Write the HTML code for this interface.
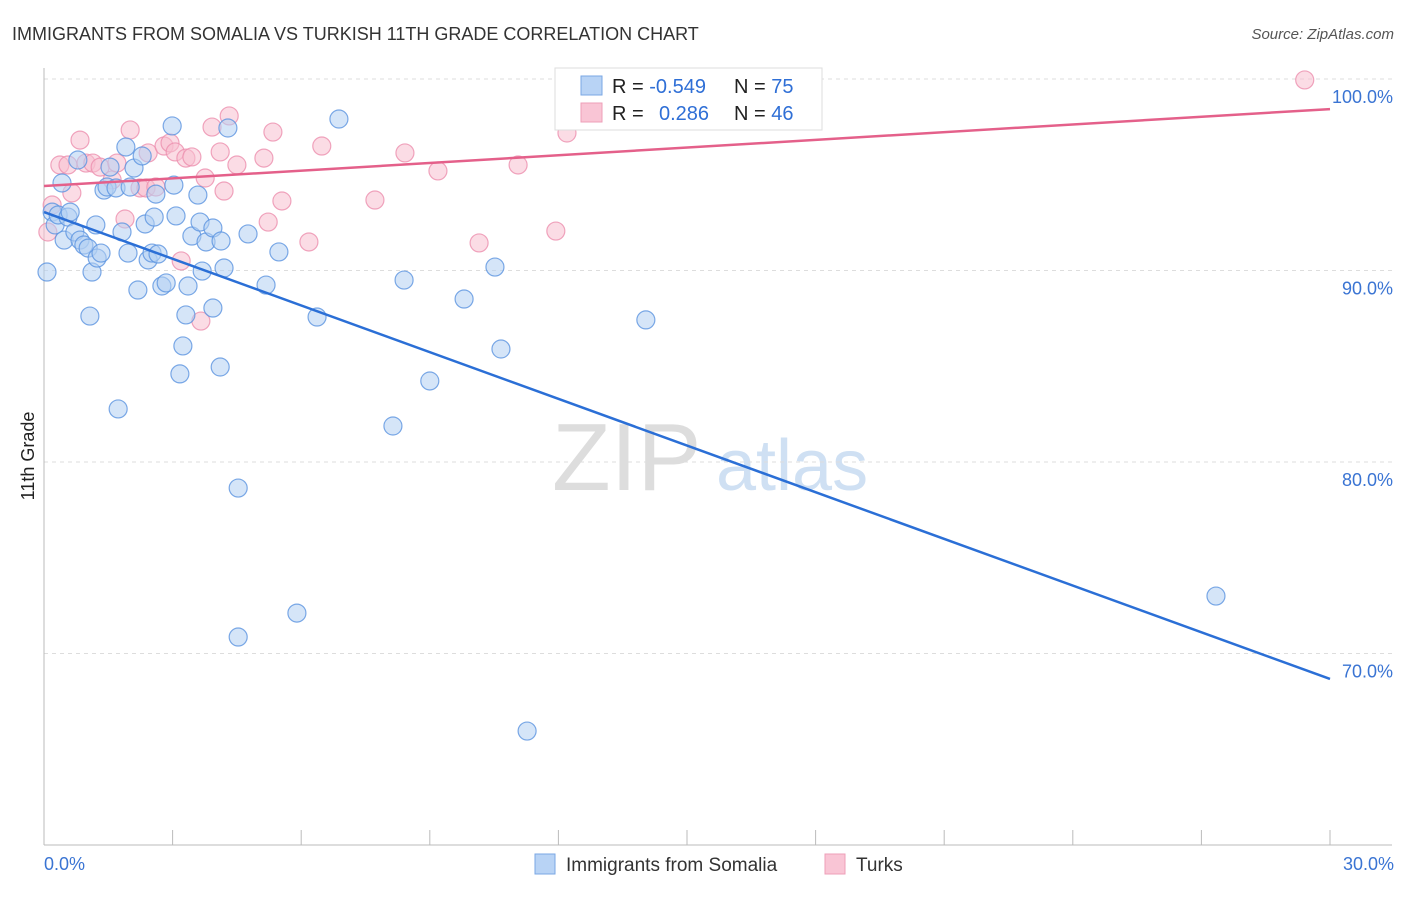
<!DOCTYPE html>
<html><head><meta charset="utf-8"><style>
body{margin:0;background:#fff;font-family:"Liberation Sans",sans-serif;}
svg text{font-family:"Liberation Sans",sans-serif;}
</style></head><body>
<svg width="1406" height="892" viewBox="0 0 1406 892">
<text x="12" y="40" font-size="18" fill="#333">IMMIGRANTS FROM SOMALIA VS TURKISH 11TH GRADE CORRELATION CHART</text>
<text x="1394" y="39" font-size="15" fill="#555" font-style="italic" text-anchor="end">Source: ZipAtlas.com</text>
<g>
<text x="552" y="490" font-size="96" fill="#ddd" font-family="Liberation Serif,serif">ZIP</text>
<text x="716" y="490" font-size="72" fill="#cfe0f3">atlas</text>
</g>
<g id="grid"></g>
<g id="axes"></g>
<g id="marks"></g>
<text transform="translate(34,456) rotate(-90)" font-size="18" fill="#222" text-anchor="middle">11th Grade</text>
<g>
<rect x="555" y="68" width="267" height="62" fill="#fff" stroke="#ddd"/>
<rect x="581" y="76" width="21" height="19" fill="#b8d3f5" stroke="#7aa7e4"/>
<rect x="581" y="103" width="21" height="19" fill="#f9c5d5" stroke="#ee9fb8"/>
<text x="612" y="93" font-size="20" fill="#222">R = <tspan fill="#2f6fd6">-0.549</tspan></text>
<text x="734" y="93" font-size="20" fill="#222">N = <tspan fill="#2f6fd6">75</tspan></text>
<text x="612" y="120" font-size="20" fill="#222">R = <tspan x="659" fill="#2f6fd6">0.286</tspan></text>
<text x="734" y="120" font-size="20" fill="#222">N = <tspan fill="#2f6fd6">46</tspan></text>
</g>
<g>
<rect x="535" y="854" width="20" height="20" fill="#b8d3f5" stroke="#7aa7e4"/>
<text x="566" y="871" font-size="19" fill="#333">Immigrants from Somalia</text>
<rect x="825" y="854" width="20" height="20" fill="#f9c5d5" stroke="#ee9fb8"/>
<text x="856" y="871" font-size="19" fill="#333">Turks</text>
</g>
</svg>
<script>
const yTicks=[100,90,80,70];
const yTickLabels=["100.0%","90.0%","80.0%","70.0%"];
const xTickLabels=["0.0%","30.0%"];
const somaliaX=[0.07,0.19,0.26,0.33,0.42,0.47,0.56,0.61,0.72,0.79,0.84,0.93,1.03,1.07,1.12,1.21,1.24,1.33,1.40,1.47,1.54,1.68,1.73,1.82,1.91,1.96,2.01,2.10,2.19,2.29,2.36,2.43,2.52,2.57,2.61,2.66,2.75,2.85,2.99,3.03,3.08,3.17,3.24,3.31,3.36,3.45,3.59,3.64,3.69,3.78,3.94,3.94,4.11,4.13,4.20,4.29,4.53,4.53,4.76,5.18,5.48,5.90,6.37,6.88,8.14,8.40,9.00,9.80,10.52,10.66,11.27,14.04,27.34];
const somaliaY=[89.92,93.05,92.38,92.90,94.57,91.59,92.79,93.05,92.01,95.77,91.59,91.33,91.17,87.62,89.92,92.38,90.65,90.91,94.20,94.36,95.40,94.31,82.77,92.01,96.45,90.91,94.36,95.35,88.98,95.98,92.43,90.55,90.91,92.79,93.99,90.86,89.19,89.35,97.55,94.46,92.85,84.60,86.06,87.68,89.19,91.80,93.94,92.53,89.97,91.49,92.22,88.04,84.96,91.54,90.13,97.44,78.64,70.86,91.91,89.24,90.97,72.11,87.57,97.91,81.88,89.50,84.23,88.51,90.18,85.90,65.95,87.42,73.00];
const turksX=[0.09,0.19,0.37,0.56,0.65,0.84,0.98,1.14,1.31,1.59,1.70,1.89,2.01,2.24,2.38,2.43,2.61,2.80,2.94,3.06,3.20,3.31,3.45,3.66,3.76,3.92,4.11,4.20,4.32,4.50,5.13,5.23,5.34,5.55,6.18,6.48,7.72,8.42,9.19,10.15,11.06,11.94,12.20,12.32,29.41];
const turksY=[92.01,93.42,95.51,95.51,94.05,96.81,95.61,95.61,95.40,94.73,95.61,92.69,97.34,94.31,94.31,96.14,94.36,96.50,96.66,96.19,90.50,95.87,95.93,87.36,94.83,97.49,96.19,94.15,98.07,95.51,95.87,92.53,97.23,93.63,91.49,96.50,93.68,96.14,95.20,91.44,95.51,92.06,97.18,100.0,99.95];
const somaliaTrend=[93.05,68.67];
const turksTrend=[94.41,98.43];
const NS="http://www.w3.org/2000/svg";
const X=v=>44+v/30*1286, Y=v=>79+(100-v)*19.15;
function mk(p,t,a){const e=document.createElementNS(NS,t);for(const k in a)e.setAttribute(k,a[k]);p.appendChild(e);return e;}
const grid=document.getElementById('grid'),axes=document.getElementById('axes'),marks=document.getElementById('marks');
yTicks.forEach((t,i)=>{
 const l=mk(grid,'line',{x1:44,x2:1392,y1:Y(t),y2:Y(t),stroke:'#ddd','stroke-dasharray':'4,4'});
 
 
 const tx=mk(grid,'text',{x:1393,y:Y(t)+24,'text-anchor':'end','font-size':18,fill:'#3a74d3'});
 tx.textContent=yTickLabels[i];
 
 
});
const la=mk(axes,'line',{x1:44,x2:44,y1:68,y2:845,stroke:'#bbb'});


const ba=mk(axes,'line',{x1:44,x2:1392,y1:845,y2:845,stroke:'#bbb'});


for(let i=0;i<=10;i++){
 const t=mk(axes,'line',{x1:X(i*3),x2:X(i*3),y1:830,y2:845,stroke:'#bbb'});
 
 
}
[[0,'start',44],[30,'end',1394]].forEach((d,i)=>{
 const tx=mk(axes,'text',{x:d[2],y:870,'text-anchor':d[1],'font-size':18,fill:'#3a74d3'});
 tx.textContent=xTickLabels[i];
 
 
});
function pts(xs,ys,fill,stroke,name){
 xs.forEach((x,i)=>{
  const c=mk(marks,'circle',{cx:X(x),cy:Y(ys[i]),r:9,fill:fill,'fill-opacity':0.55,stroke:stroke,'stroke-width':1.2,'stroke-opacity':0.8});
  
  
 });
}
pts(turksX,turksY,'#f8bfd0','#ec8fae','turks-point');
pts(somaliaX,somaliaY,'#b3cff3','#5b93e0','somalia-point');
const t1=mk(marks,'line',{x1:X(0),x2:X(30),y1:Y(turksTrend[0]),y2:Y(turksTrend[1]),stroke:'#e4608a','stroke-width':2.5});


const t2=mk(marks,'line',{x1:X(0),x2:X(30),y1:Y(somaliaTrend[0]),y2:Y(somaliaTrend[1]),stroke:'#2b6fd6','stroke-width':2.5});


</script>
</body></html>
